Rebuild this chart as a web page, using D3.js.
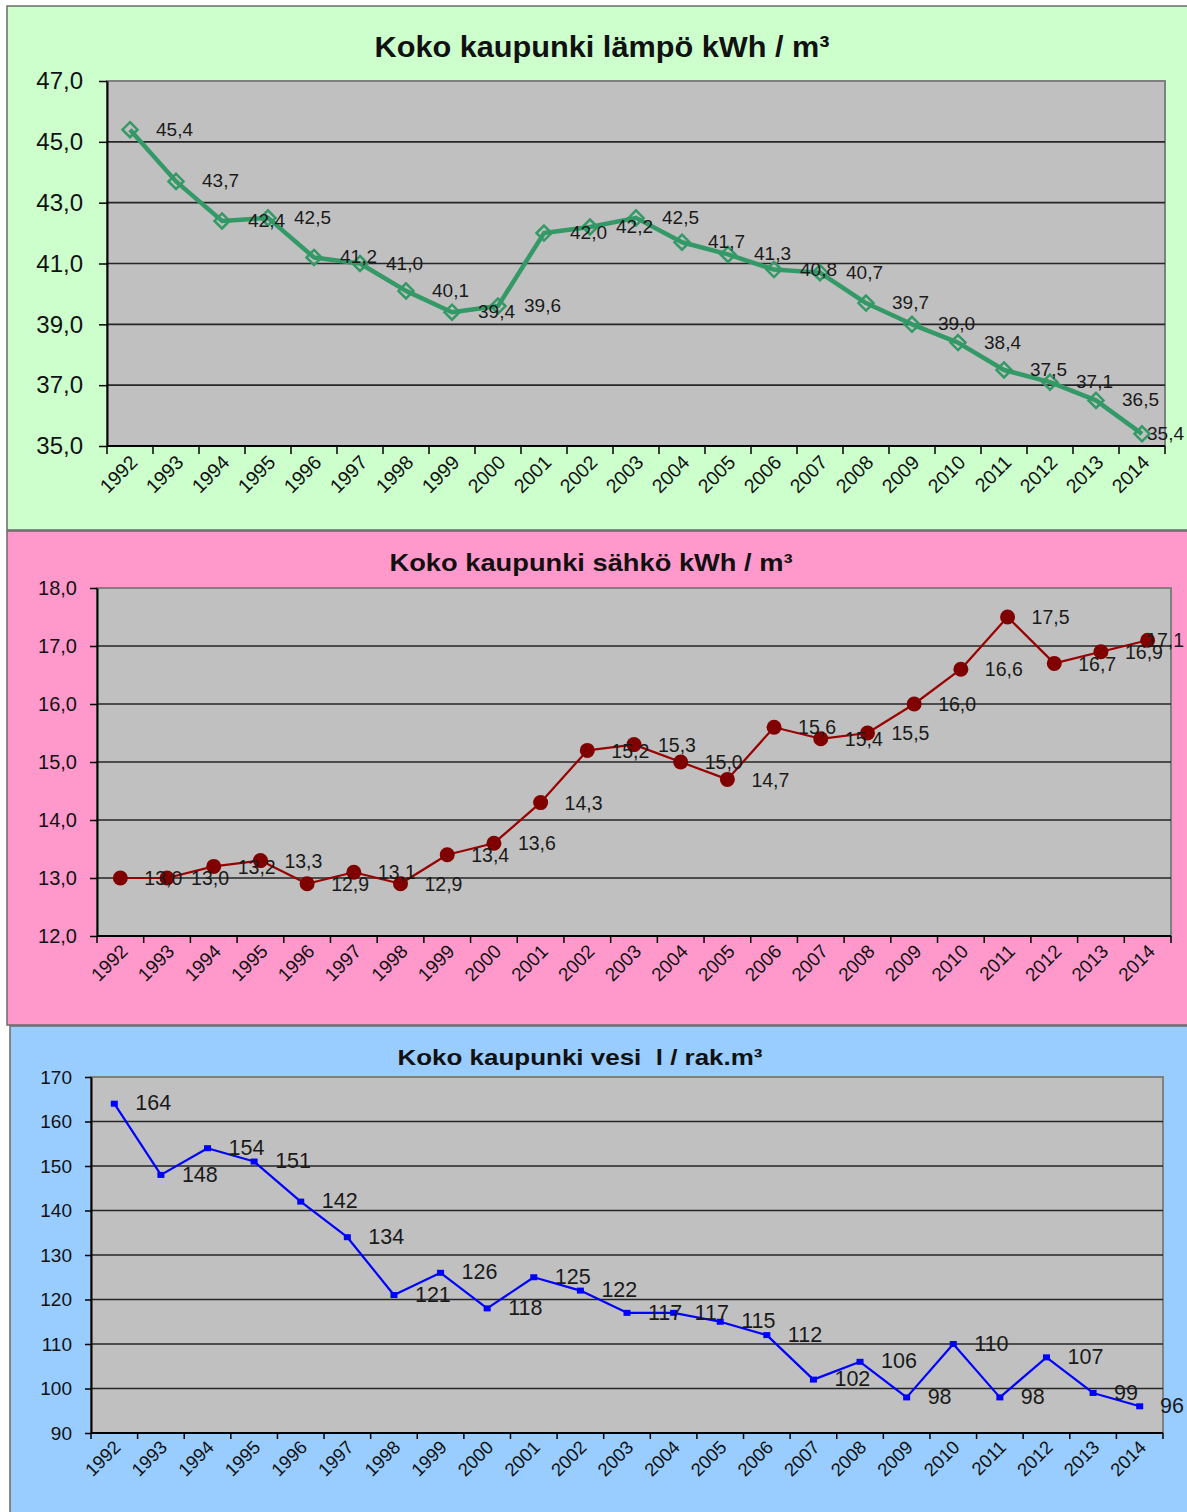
<!DOCTYPE html>
<html>
<head>
<meta charset="utf-8">
<script src="https://cdn.jsdelivr.net/npm/d3@7"></script>
<style>
  html, body { margin: 0; padding: 0; background: #ffffff; }
  svg { display: block; font-family: "Liberation Sans", Arial, sans-serif; }
  .ttl { white-space: pre; }
</style>
</head>
<body>
<svg id="chart" width="1187" height="1512"></svg>
<script>
// ---------- DATA ----------
const years = ["1992","1993","1994","1995","1996","1997","1998","1999","2000","2001","2002","2003",
               "2004","2005","2006","2007","2008","2009","2010","2011","2012","2013","2014"];

const heatValues = [45.4, 43.7, 42.4, 42.5, 41.2, 41.0, 40.1, 39.4, 39.6, 42.0, 42.2, 42.5,
                    41.7, 41.3, 40.8, 40.7, 39.7, 39.0, 38.4, 37.5, 37.1, 36.5, 35.4];
const heatTicks = [35, 37, 39, 41, 43, 45, 47];

const elecValues = [13.0, 13.0, 13.2, 13.3, 12.9, 13.1, 12.9, 13.4, 13.6, 14.3, 15.2, 15.3,
                    15.0, 14.7, 15.6, 15.4, 15.5, 16.0, 16.6, 17.5, 16.7, 16.9, 17.1];
const elecTicks = [12, 13, 14, 15, 16, 17, 18];

const waterValues = [164, 148, 154, 151, 142, 134, 121, 126, 118, 125, 122, 117,
                     117, 115, 112, 102, 106, 98, 110, 98, 107, 99, 96];
const waterTicks = [90, 100, 110, 120, 130, 140, 150, 160, 170];

const titles = ["Koko kaupunki lämpö kWh / m³", "Koko kaupunki sähkö kWh / m³", "Koko kaupunki vesi  l / rak.m³"];

// ---------- DRAW ----------
const svg = d3.select("#chart");
const comma1 = v => d3.format(".1f")(v).replace(".", ",");
const comma0 = v => d3.format("d")(v);

function drawChart(cfg) {
  const g = svg.append("g");
  // panel
  g.append("rect")
    .attr("x", cfg.panel.x).attr("y", cfg.panel.y)
    .attr("width", cfg.panel.w).attr("height", cfg.panel.h)
    .attr("fill", cfg.bg).attr("stroke", "#6a6a6a").attr("stroke-width", 1.5);

  // title
  g.append("text").attr("class", "ttl")
    .attr("x", cfg.titleX - cfg.titleW / 2).attr("y", cfg.titleY)
    .attr("font-size", cfg.titleSize).attr("font-weight", "bold")
    .attr("textLength", cfg.titleW).attr("lengthAdjust", "spacingAndGlyphs")
    .attr("fill", "#111")
    .text(cfg.title);

  const p = cfg.plot;
  const x = d3.scaleBand().domain(years).range([p.x0, p.x1]);
  const y = d3.scaleLinear().domain(cfg.domain).range([p.y1, p.y0]);

  // plot area
  g.append("rect")
    .attr("x", p.x0).attr("y", p.y0)
    .attr("width", p.x1 - p.x0).attr("height", p.y1 - p.y0)
    .attr("fill", "#c0c0c0").attr("stroke", "#808080").attr("stroke-width", 2);

  // gridlines
  g.append("g").selectAll("line")
    .data(cfg.ticks.filter(t => t !== cfg.domain[0] && t !== cfg.domain[1]))
    .join("line")
    .attr("x1", p.x0).attr("x2", p.x1)
    .attr("y1", d => y(d)).attr("y2", d => y(d))
    .attr("stroke", "#262626").attr("stroke-width", 1.6);

  // y axis
  const yAxis = d3.axisLeft(y).tickValues(cfg.ticks).tickFormat(cfg.fmtAxis)
    .tickSizeOuter(0).tickSizeInner(cfg.tickLen).tickPadding(cfg.yPad);
  const ya = g.append("g").attr("transform", `translate(${p.x0},0)`).call(yAxis);
  ya.select(".domain").attr("stroke", "#000").attr("stroke-width", 2);
  ya.selectAll(".tick line").attr("stroke", "#000").attr("stroke-width", 1.5);
  ya.selectAll(".tick text").attr("font-size", cfg.ySize).attr("fill", "#111")
    .attr("font-family", "Liberation Sans, Arial, sans-serif");

  // x axis (ticks at category boundaries)
  const xa = g.append("g").attr("transform", `translate(0,${p.y1})`);
  xa.append("line").attr("x1", p.x0).attr("x2", p.x1).attr("y1", 0).attr("y2", 0)
    .attr("stroke", "#000").attr("stroke-width", 2);
  const bounds = years.map(d => x(d)).concat([x(years[years.length - 1]) + x.bandwidth()]);
  xa.selectAll("line.tk").data(bounds).join("line").attr("class", "tk")
    .attr("x1", d => d).attr("x2", d => d).attr("y1", 0).attr("y2", cfg.tickLen)
    .attr("stroke", "#000").attr("stroke-width", 1.5);
  xa.selectAll("text").data(years).join("text")
    .attr("transform", d => `translate(${x(d) + x.bandwidth() / 2 + cfg.xLabDx},${cfg.xLabDy}) rotate(-45)`)
    .attr("text-anchor", "end")
    .attr("dominant-baseline", "middle")
    .attr("font-size", cfg.xSize).attr("fill", "#111")
    .text(d => d);

  const cx = (d, i) => x(years[i]) + x.bandwidth() / 2;

  // line
  const line = d3.line().x((d, i) => cx(d, i)).y(d => y(d));
  g.append("path").datum(cfg.values)
    .attr("d", line).attr("fill", "none")
    .attr("stroke", cfg.color).attr("stroke-width", cfg.lineW)
    .attr("stroke-linejoin", "round");

  // markers
  const mk = g.append("g");
  if (cfg.marker === "diamond") {
    const s = cfg.markerSize;
    mk.selectAll("path").data(cfg.values).join("path")
      .attr("d", (d, i) => {
        const X = cx(d, i), Y = y(d);
        return `M${X},${Y - s}L${X + s},${Y}L${X},${Y + s}L${X - s},${Y}Z`;
      })
      .attr("fill", "none").attr("stroke", cfg.color).attr("stroke-width", 2.5);
  } else if (cfg.marker === "circle") {
    mk.selectAll("circle").data(cfg.values).join("circle")
      .attr("cx", (d, i) => cx(d, i)).attr("cy", d => y(d))
      .attr("r", cfg.markerSize).attr("fill", cfg.markerColor);
  } else {
    const s = cfg.markerSize;
    mk.selectAll("rect").data(cfg.values).join("rect")
      .attr("x", (d, i) => cx(d, i) - s / 2).attr("y", d => y(d) - s / 2 + 0.5)
      .attr("width", s).attr("height", s - 1).attr("fill", cfg.color);
  }

  // data labels
  const labs = g.append("g").selectAll("text").data(cfg.values).join("text")
    .attr("y", d => y(d) + cfg.labDy)
    .attr("dominant-baseline", "middle")
    .attr("font-size", cfg.labSize).attr("fill", "#1a1a1a")
    .text(d => cfg.fmtLabel(d));
  labs.each(function (d, i) {
    const w = this.getComputedTextLength();
    let lx = cx(d, i) + cfg.labDx;
    if (lx + w > 1184) lx = 1184 - w;
    d3.select(this).attr("x", lx);
  });
}

drawChart({
  panel: { x: 7, y: 6, w: 1185, h: 524 },
  bg: "#ccffcc",
  title: titles[0], titleX: 602, titleY: 57, titleSize: 30, titleW: 455,
  plot: { x0: 107, x1: 1165, y0: 81, y1: 446 },
  domain: [35, 47], ticks: heatTicks,
  fmtAxis: comma1, fmtLabel: comma1,
  tickLen: 8, yPad: 16, ySize: 24,
  xSize: 19.5, xLabDx: 5, xLabDy: 14,
  values: heatValues, color: "#339966", lineW: 4.5,
  marker: "diamond", markerSize: 7.5,
  labSize: 19, labDx: 26, labDy: 1
});

drawChart({
  panel: { x: 7, y: 531, w: 1185, h: 494 },
  bg: "#ff99cc",
  title: titles[1], titleX: 591, titleY: 571, titleSize: 24, titleW: 403,
  plot: { x0: 97, x1: 1171, y0: 588, y1: 936 },
  domain: [12, 18], ticks: elecTicks,
  fmtAxis: comma1, fmtLabel: comma1,
  tickLen: 7, yPad: 13, ySize: 20,
  xSize: 19, xLabDx: 5, xLabDy: 13,
  values: elecValues, color: "#990000", lineW: 2.2,
  marker: "circle", markerSize: 7.5, markerColor: "#800000",
  labSize: 19.5, labDx: 24, labDy: 2
});

drawChart({
  panel: { x: 10, y: 1026, w: 1182, h: 490 },
  bg: "#99ccff",
  title: titles[2], titleX: 580, titleY: 1065, titleSize: 22, titleW: 365,
  plot: { x0: 91, x1: 1163, y0: 1077, y1: 1433 },
  domain: [90, 170], ticks: waterTicks,
  fmtAxis: comma0, fmtLabel: comma0,
  tickLen: 6, yPad: 13, ySize: 19,
  xSize: 18.5, xLabDx: 4, xLabDy: 12,
  values: waterValues, color: "#0000ff", lineW: 2.2,
  marker: "square", markerSize: 7,
  labSize: 21.5, labDx: 21, labDy: 1
});
</script>
</body>
</html>
